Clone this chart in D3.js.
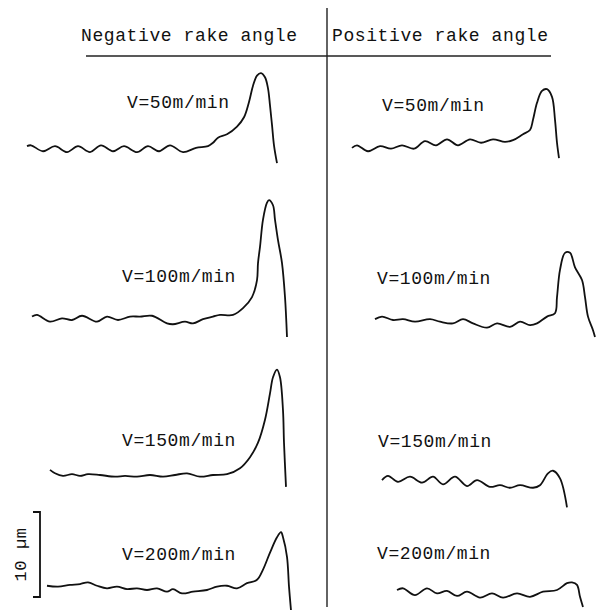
<!DOCTYPE html>
<html>
<head>
<meta charset="utf-8">
<script src="https://cdn.jsdelivr.net/npm/d3@7"></script>
<style>
  html, body { margin: 0; padding: 0; background: #fff; }
  text { font-family: "Liberation Mono", "DejaVu Sans Mono", monospace; font-size: 18px; letter-spacing: 0.6px; fill: #111; }
</style>
</head>
<body>
<script>
// column headings and speed labels
var columns = ["Negative rake angle", "Positive rake angle"];
var speeds = ["V=50m/min", "V=100m/min", "V=150m/min", "V=200m/min"];

// profiles: trace position (arbitrary units) and height in µm
var neg50X = [27,31,43,55,67,78,90,101,113,124,137,148,159,170,183,196,208,213,218,227,237,244,249,253,257,261,265,268,270,272,274,277];
var neg50Z = [0.1,0.2,-0.5,0.1,-0.6,0.1,-0.6,0.2,-0.5,0.1,-0.6,0.1,-0.5,0.2,-0.6,-0.1,0.1,0.5,1.1,1.5,2.4,3.5,5.3,7.2,8.4,8.7,8.2,6.9,4.9,2.6,0.2,-1.9];

var pos50X = [27,32,43,55,66,77,89,100,111,122,133,145,156,168,180,188,198,205,208,212,217,222,227,230,232,234];
var pos50Z = [-0.1,0.2,-0.5,0.1,-0.2,0.2,-0.2,0.7,0.2,0.9,0.2,0.9,0.5,0.9,0.6,0.8,1.5,2.0,3.2,5.2,6.6,6.8,5.9,3.2,0.5,-1.3];

var neg100X = [32,37,50,62,72,82,97,107,118,130,140,152,167,173,185,193,203,213,220,233,243,252,257,258,260,263,267,269,273,275,278,282,285,287];
var neg100Z = [0.4,0.6,-0.2,0.2,0.0,0.5,-0.2,0.4,0.0,0.4,0.4,0.5,-0.4,-0.5,-0.2,-0.4,0.1,0.4,0.6,0.6,1.4,2.7,4.7,6.7,8.6,11.8,13.8,14.1,13.5,11.8,9.4,6.7,2.7,-2.0];

var pos100X = [50,57,68,78,90,105,115,128,138,148,162,172,185,195,205,212,222,230,232,235,240,245,250,257,260,263,268,270];
var pos100Z = [0.1,0.4,0.0,0.1,-0.2,0.1,-0.2,-0.4,0.1,-0.4,-0.9,-0.4,-0.8,-0.2,-0.6,-0.4,0.4,0.8,2.7,5.9,7.9,7.9,6.2,4.7,2.7,0.4,-1.2,-2.0];

var neg150X = [50,55,63,72,80,88,100,115,125,137,150,163,175,187,200,213,227,240,250,258,265,270,273,277,280,283,284,286];
var neg150Z = [0.6,0.2,-0.1,0.1,-0.1,0.1,0.0,-0.2,-0.1,-0.2,0.0,-0.2,0.0,0.2,-0.2,0.0,0.1,0.8,2.1,3.8,6.5,9.6,11.5,12.4,11.5,7.6,3.8,-1.4];

var pos150X = [57,63,73,85,97,108,118,130,142,152,165,175,185,195,208,215,223,228,235,242];
var pos150Z = [-0.6,-0.1,-0.8,-0.2,-0.9,-0.2,-1.1,-0.2,-1.3,-0.6,-1.4,-1.2,-1.5,-1.2,-1.5,-1.2,0.2,0.5,-0.4,-3.8];

var neg200X = [47,58,70,80,88,97,107,117,127,137,147,157,167,173,182,193,207,217,227,237,247,257,263,270,277,281,283,287,289,291];
var neg200Z = [0.5,0.4,0.6,0.7,0.9,0.5,0.2,0.4,0.1,0.2,0.0,0.2,-0.2,0.1,-0.4,-0.2,0.0,0.4,0.5,0.2,0.8,1.2,2.4,4.4,6.2,6.8,6.2,3.9,0.4,-2.4];

var pos200X = [72,78,90,102,112,122,132,142,155,167,178,192,205,218,232,242,247,252,255,258];
var pos200Z = [0.0,0.2,-0.6,0.2,-0.4,-0.1,-0.7,-0.2,-0.9,-0.4,-0.9,-0.4,-0.8,-0.2,0.0,0.8,0.9,0.6,-0.8,-2.0];

var scaleBarUm = 10;

var profiles = [
	{ col: 0, row: 0, x: neg50X, z: neg50Z },
	{ col: 1, row: 0, x: pos50X, z: pos50Z },
	{ col: 0, row: 1, x: neg100X, z: neg100Z },
	{ col: 1, row: 1, x: pos100X, z: pos100Z },
	{ col: 0, row: 2, x: neg150X, z: neg150Z },
	{ col: 1, row: 2, x: pos150X, z: pos150Z },
	{ col: 0, row: 3, x: neg200X, z: neg200Z },
	{ col: 1, row: 3, x: pos200X, z: pos200Z }
];

// layout
var W = 597, H = 610;
var colLeft = [0, 325];
var rowBase = [147, 320, 475, 590];
var pxPerUm = 8.5;
var labelPos = [[127, 108], [57, 111], [122, 282], [52, 284], [122, 446], [53, 447], [122, 560], [52, 559]];

var svg = d3.select("body").append("svg").attr("width", W).attr("height", H);

function xScale(col) {
	return d3.scaleLinear().domain([0, 300]).range([colLeft[col], colLeft[col] + 300]);
}
function yScale(row) {
	return d3.scaleLinear().domain([0, 10]).range([rowBase[row], rowBase[row] - 10 * pxPerUm]);
}

// frame lines
svg.append("line").attr("x1", 327).attr("x2", 327).attr("y1", 8).attr("y2", 607)
	.attr("stroke", "#222").attr("stroke-width", 1.4);
svg.append("line").attr("x1", 86).attr("x2", 551).attr("y1", 56).attr("y2", 56)
	.attr("stroke", "#222").attr("stroke-width", 1.6);

svg.selectAll(".head").data(columns).enter().append("text")
	.attr("class", "head")
	.attr("x", function(d, i) { return [81, 332][i]; })
	.attr("y", 41)
	.text(function(d) { return d; });

// profile traces
profiles.forEach(function(p, i) {
	var xs = xScale(p.col), ys = yScale(p.row);
	var line = d3.line()
		.x(function(d) { return xs(d[0]); })
		.y(function(d) { return ys(d[1]); })
		.curve(d3.curveCatmullRom.alpha(0.5));
	svg.append("path")
		.datum(d3.zip(p.x, p.z))
		.attr("d", line)
		.attr("fill", "none")
		.attr("stroke", "#111")
		.attr("stroke-width", 1.8)
		.attr("stroke-linejoin", "round");
	svg.append("text")
		.attr("x", colLeft[p.col] + labelPos[i][0])
		.attr("y", labelPos[i][1])
		.text(speeds[p.row]);
});

// 10 µm scale bar
var bar = d3.scaleLinear().domain([0, scaleBarUm]).range([597, 512]);
svg.append("path")
	.attr("d", "M 33 " + bar(scaleBarUm) + " L 40 " + bar(scaleBarUm) + " L 40 " + bar(0) + " L 33 " + bar(0))
	.attr("fill", "none").attr("stroke", "#111").attr("stroke-width", 1.8);
svg.append("text")
	.attr("transform", "translate(26," + bar(scaleBarUm / 2) + ") rotate(-90)")
	.attr("text-anchor", "middle")
	.style("font-size", "17px")
	.text(scaleBarUm + " µm");
</script>
</body>
</html>
